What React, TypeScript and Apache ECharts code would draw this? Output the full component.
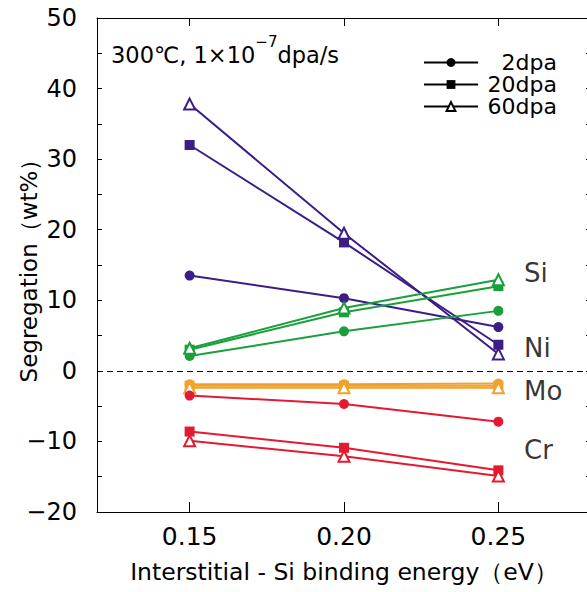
import React, { useEffect, useRef } from "react";
import * as echarts from "echarts";

const energies = [0.15, 0.2, 0.25];
const xTicks = [0.15, 0.2, 0.25];

const ni2 = [13.5, 10.3, 6.2];
const ni20 = [32.0, 18.2, 3.7];
const ni60 = [37.8, 19.5, 2.4];

const si2 = [2.1, 5.6, 8.5];
const si20 = [3.0, 8.3, 12.0];
const si60 = [3.2, 8.9, 12.9];

const mo2 = [-1.9, -1.9, -1.8];
const mo20 = [-2.1, -2.1, -2.1];
const mo60 = [-2.4, -2.4, -2.4];

const cr2 = [-3.5, -4.7, -7.2];
const cr20 = [-8.6, -10.9, -14.1];
const cr60 = [-9.9, -12.1, -14.9];

const doseNames = ["2dpa", "20dpa", "60dpa"];
const elementNames = ["Ni", "Si", "Mo", "Cr"];
const elementColors = ["#3b1d87", "#1aa03b", "#f2a12b", "#e31a31"];
const elementData = [
  [ni2, ni20, ni60],
  [si2, si20, si60],
  [mo2, mo20, mo60],
  [cr2, cr20, cr60],
];
const elementLabelPos: [string, number][] = [
  ["Si", 13.8],
  ["Ni", 3.3],
  ["Mo", -2.8],
  ["Cr", -11.2],
];
const elementLabelX = 0.2583;

const FONT = "DejaVu Sans";

function symbolFor(i: number) {
  return i === 0 ? "circle" : i === 1 ? "rect" : "triangle";
}
function sizeFor(i: number) {
  return i === 0 ? 10 : i === 1 ? 10 : 11;
}

export default function App() {
  const ref = useRef<HTMLDivElement>(null);
  useEffect(() => {
    if (!ref.current) return;
    const chart = echarts.init(ref.current, undefined, { renderer: "svg" });
    const series: any[] = [];
    elementData.forEach((group, ei) => {
      const color = elementColors[ei];
      group.forEach((vals, di) => {
        const tri = di === 2;
        series.push({
          type: "line",
          name: elementNames[ei] + " " + doseNames[di],
          data: energies.map((x, k) => [x, vals[k]]),
          symbol: symbolFor(di),
          symbolSize: sizeFor(di),
          showAllSymbol: true,
          lineStyle: { color, width: 2 },
          itemStyle: tri
            ? { color: "#fff", borderColor: color, borderWidth: 2 }
            : { color, borderColor: color, borderWidth: 0 },
          z: 3,
        });
      });
    });
    // legend-only series
    doseNames.forEach((n, di) => {
      const tri = di === 2;
      series.push({
        type: "line",
        name: n,
        data: [],
        symbol: symbolFor(di),
        symbolSize: 9,
        lineStyle: { color: "#000", width: 2 },
        itemStyle: tri
          ? { color: "#fff", borderColor: "#000", borderWidth: 1.5 }
          : { color: "#000", borderColor: "#000", borderWidth: 0 },
      });
    });
    // zero dashed line
    series.push({
      type: "line",
      name: "zero",
      data: [],
      markLine: {
        silent: true,
        symbol: "none",
        label: { show: false },
        lineStyle: { color: "#000", type: [6, 4], width: 1 },
        data: [{ yAxis: 0 }],
      },
    });
    // element labels
    series.push({
      type: "scatter",
      name: "labels",
      symbolSize: 0,
      data: elementLabelPos.map(([n, v]) => ({ value: [elementLabelX, v], name: n })),
      label: {
        show: true,
        position: "right",
        distance: 0,
        formatter: (p: any) => p.name,
        color: "#000",
        fontSize: 26,
        fontFamily: FONT,
      },
      z: 5,
    });

    const minus = (v: number) => String(v).replace("-", "\u2212");

    chart.setOption({
      animation: false,
      backgroundColor: "#fff",
      grid: { left: 97, top: 18, width: 494, height: 494, outerBoundsMode: "none", containLabel: false },
      legend: {
        data: doseNames,
        orient: "vertical",
        left: 423,
        top: 51.5,
        itemWidth: 54,
        itemHeight: 11,
        itemGap: 0,
        padding: 0,
        formatter: (n: string) => "{a|" + n + "}",
        textStyle: {
          fontFamily: FONT,
          fontSize: 22,
          color: "#000",
          rich: { a: { width: 74, align: "right", fontSize: 22, fontFamily: FONT, lineHeight: 23.5 } },
        },
        selectedMode: false,
      },
      xAxis: [
        {
          type: "value",
          min: 0.12,
          max: 0.28,
          name: "Interstitial - Si binding energy\uFF08eV\uFF09",
          nameLocation: "middle",
          nameGap: 48,
          nameMoveOverlap: false,
          nameTextStyle: { fontFamily: FONT, fontSize: 23.5, color: "#000" },
          axisLine: { onZero: false, lineStyle: { color: "#000", width: 1 } },
          axisTick: { inside: true, length: 10, customValues: xTicks, lineStyle: { color: "#000" } },
          axisLabel: {
            customValues: xTicks,
            formatter: (v: number) => v.toFixed(2),
            fontFamily: FONT,
            fontSize: 25,
            color: "#000",
            margin: 12,
          },
          splitLine: { show: false },
        },
        {
          type: "value",
          position: "top",
          min: 0.12,
          max: 0.28,
          axisLine: { onZero: false, lineStyle: { color: "#000", width: 1 } },
          axisTick: { inside: true, length: 8, customValues: xTicks, lineStyle: { color: "#000" } },
          axisLabel: { show: false },
          splitLine: { show: false },
        },
      ],
      yAxis: [
        {
          type: "value",
          min: -20,
          max: 50,
          interval: 10,
          name: "Segregation\uFF08wt%\uFF09",
          nameLocation: "middle",
          nameGap: 57,
          nameMoveOverlap: false,
          nameTextStyle: { fontFamily: FONT, fontSize: 23, color: "#000" },
          axisLine: { onZero: false, lineStyle: { color: "#000", width: 1 } },
          axisTick: { inside: true, length: 5, lineStyle: { color: "#000" } },
          minorTick: { show: true, splitNumber: 2, length: 5, lineStyle: { color: "#000" } },
          axisLabel: { formatter: minus, fontFamily: FONT, fontSize: 24, color: "#000", margin: 20 },
          splitLine: { show: false },
        },
        {
          type: "value",
          position: "right",
          min: -20,
          max: 50,
          interval: 10,
          axisLine: { onZero: false, lineStyle: { color: "#000", width: 1 } },
          axisTick: { inside: true, length: 5, lineStyle: { color: "#000" } },
          minorTick: { show: true, splitNumber: 2, length: 5, lineStyle: { color: "#000" } },
          axisLabel: { show: false },
          splitLine: { show: false },
        },
      ],
      graphic: [
        {
          type: "text",
          left: 111,
          top: 34,
          style: {
            text: "{a|300\u2103, 1\u00D710}{b|\u22127}{a|dpa/s}",
            rich: {
              a: { fontFamily: FONT, fontSize: 22.5, color: "#000", lineHeight: 32, verticalAlign: "bottom" },
              b: { fontFamily: FONT, fontSize: 15, color: "#000", lineHeight: 32, verticalAlign: "top" },
            },
          },
        },
      ],
      series,
    });
    return () => chart.dispose();
  }, []);
  return (
    <div
      ref={ref}
      style={{ position: "fixed", left: 0, top: 0, width: 587, height: 592, background: "#fff" }}
    />
  );
}
